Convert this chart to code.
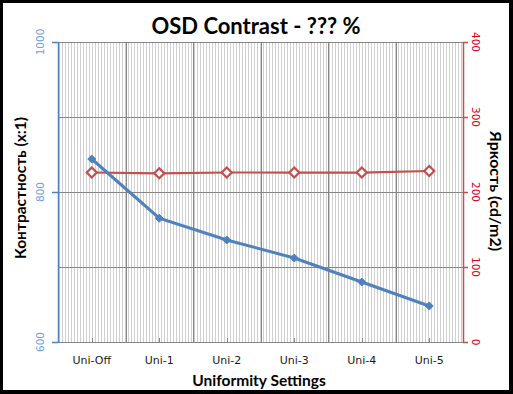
<!DOCTYPE html>
<html>
<head>
<meta charset="utf-8">
<script src="https://cdn.jsdelivr.net/npm/d3@7"></script>
<style>
  body { margin: 0; background: #000; }
  svg { display: block; }
</style>
</head>
<body>
<div id="chart"></div>
<script>
const categories = ["Uni-Off", "Uni-1", "Uni-2", "Uni-3", "Uni-4", "Uni-5"];
const contrast = [844, 765, 736, 712, 680, 648];
const luminance = [226, 225, 226, 226, 226, 228];
const contrastTicks = [600, 800, 1000];
const contrastGrid = [600, 700, 800, 900, 1000];
const luminanceTicks = [0, 100, 200, 300, 400];

const W = 513;
const H = 394;
const margin = { top: 42, right: 50, bottom: 52, left: 58 };
const width = W - margin.left - margin.right;
const height = H - margin.top - margin.bottom;

const blue = "#4f81bd";
const red = "#c0504d";
const titleFont = "Lato, 'Liberation Sans', sans-serif";
const tickFont = "'DejaVu Sans', Verdana, sans-serif";

const svg = d3
  .select("#chart")
  .append("svg")
  .attr("width", W)
  .attr("height", H);

// frame
svg.append("rect").attr("width", W).attr("height", H).attr("fill", "#000");
svg
  .append("rect")
  .attr("x", 3)
  .attr("y", 3)
  .attr("width", 506)
  .attr("height", 387)
  .attr("fill", "#fff");

const defs = svg.append("defs");
defs
  .append("pattern")
  .attr("id", "minorGrid")
  .attr("patternUnits", "userSpaceOnUse")
  .attr("x", margin.left)
  .attr("width", 3)
  .attr("height", 10)
  .append("rect")
  .attr("x", 0)
  .attr("width", 1)
  .attr("height", 10)
  .attr("fill", "#cfcfcf");

const g = svg
  .append("g")
  .attr("transform", "translate(" + margin.left + "," + margin.top + ")");

const xBand = d3
  .scaleBand()
  .domain(categories)
  .range([0, width]);

const xPoint = d => xBand(d) + xBand.bandwidth() / 2;

const yLeft = d3
  .scaleLinear()
  .domain([600, 1000])
  .range([height, 0]);

const yRight = d3
  .scaleLinear()
  .domain([0, 400])
  .range([height, 0]);

// minor grid
g.append("rect")
  .attr("width", width)
  .attr("height", height)
  .attr("fill", "url(#minorGrid)");

// major grid
const grid = g.append("g").attr("stroke", "#868686").attr("stroke-width", 1);

grid
  .selectAll("line.h")
  .data(contrastGrid)
  .enter()
  .append("line")
  .attr("class", "h")
  .attr("x1", 0)
  .attr("x2", width)
  .attr("y1", d => Math.round(yLeft(d)) + 0.5)
  .attr("y2", d => Math.round(yLeft(d)) + 0.5);

grid
  .selectAll("line.v")
  .data(categories.slice(1))
  .enter()
  .append("line")
  .attr("class", "v")
  .attr("x1", d => Math.round(xBand(d)) + 0.5)
  .attr("x2", d => Math.round(xBand(d)) + 0.5)
  .attr("y1", 0)
  .attr("y2", height);

// category axis
const xAxis = g.append("g").attr("transform", "translate(0," + height + ")");

xAxis
  .append("line")
  .attr("x1", 0)
  .attr("x2", width)
  .attr("y1", 0.5)
  .attr("y2", 0.5)
  .attr("stroke", "#868686");

xAxis
  .selectAll("line.tick")
  .data(categories)
  .enter()
  .append("line")
  .attr("class", "tick")
  .attr("x1", d => Math.round(xPoint(d)) + 0.5)
  .attr("x2", d => Math.round(xPoint(d)) + 0.5)
  .attr("y1", 0)
  .attr("y2", -4)
  .attr("stroke", "#868686");

xAxis
  .selectAll("text")
  .data(categories)
  .enter()
  .append("text")
  .attr("x", d => xPoint(d))
  .attr("y", 22)
  .attr("text-anchor", "middle")
  .attr("font-family", tickFont)
  .attr("font-size", 11)
  .attr("fill", "#1a1a1a")
  .text(d => d);

// left axis
const leftAxis = g.append("g");

leftAxis
  .append("line")
  .attr("x1", 0.5)
  .attr("x2", 0.5)
  .attr("y1", 0)
  .attr("y2", height + 1)
  .attr("stroke", blue)
  .attr("stroke-width", 1.5);

leftAxis
  .selectAll("line.tick")
  .data(contrastTicks)
  .enter()
  .append("line")
  .attr("class", "tick")
  .attr("x1", -6)
  .attr("x2", 0)
  .attr("y1", d => Math.round(yLeft(d)) + 0.5)
  .attr("y2", d => Math.round(yLeft(d)) + 0.5)
  .attr("stroke", blue)
  .attr("stroke-width", 1.5);

leftAxis
  .selectAll("text")
  .data(contrastTicks)
  .enter()
  .append("text")
  .attr(
    "transform",
    d => "translate(-14.5," + yLeft(d) + ") rotate(-90)"
  )
  .attr("text-anchor", "middle")
  .attr("font-family", tickFont)
  .attr("font-size", 10.5)
  .attr("fill", "#6d9ee0")
  .text(d => d);

// right axis
const rightAxis = g.append("g").attr("transform", "translate(" + width + ",0)");

rightAxis
  .append("line")
  .attr("x1", 0.5)
  .attr("x2", 0.5)
  .attr("y1", 0)
  .attr("y2", height + 1)
  .attr("stroke", red)
  .attr("stroke-width", 1.5);

rightAxis
  .selectAll("line.tick")
  .data(luminanceTicks)
  .enter()
  .append("line")
  .attr("class", "tick")
  .attr("x1", 0)
  .attr("x2", 5)
  .attr("y1", d => Math.round(yRight(d)) + 0.5)
  .attr("y2", d => Math.round(yRight(d)) + 0.5)
  .attr("stroke", red)
  .attr("stroke-width", 1.5);

rightAxis
  .selectAll("text")
  .data(luminanceTicks)
  .enter()
  .append("text")
  .attr("transform", d => "translate(8.5," + yRight(d) + ") rotate(90)")
  .attr("text-anchor", "middle")
  .attr("font-family", tickFont)
  .attr("font-size", 10.5)
  .attr("fill", "#d6001c")
  .text(d => d);

// luminance series
const lumLine = d3
  .line()
  .x((d, i) => xPoint(categories[i]))
  .y(d => yRight(d));

g.append("path")
  .datum(luminance)
  .attr("d", lumLine)
  .attr("fill", "none")
  .attr("stroke", red)
  .attr("stroke-width", 2.25);

// contrast series
const conLine = d3
  .line()
  .x((d, i) => xPoint(categories[i]))
  .y(d => yLeft(d));

g.append("path")
  .datum(contrast)
  .attr("d", conLine)
  .attr("fill", "none")
  .attr("stroke", blue)
  .attr("stroke-width", 3);

const diamond = r => "M0," + -r + "L" + r + ",0L0," + r + "L" + -r + ",0Z";

g.selectAll("path.conDot")
  .data(contrast)
  .enter()
  .append("path")
  .attr("class", "conDot")
  .attr("d", diamond(4))
  .attr(
    "transform",
    (d, i) => "translate(" + xPoint(categories[i]) + "," + yLeft(d) + ")"
  )
  .attr("fill", blue)
  .attr("stroke", blue);

g.selectAll("path.lumDot")
  .data(luminance)
  .enter()
  .append("path")
  .attr("class", "lumDot")
  .attr("d", diamond(5))
  .attr(
    "transform",
    (d, i) => "translate(" + xPoint(categories[i]) + "," + yRight(d) + ")"
  )
  .attr("fill", "#fff")
  .attr("stroke", red)
  .attr("stroke-width", 2.25);

// titles
svg
  .append("text")
  .attr("x", 256)
  .attr("y", 34)
  .attr("text-anchor", "middle")
  .attr("font-family", titleFont)
  .attr("font-weight", "bold")
  .attr("font-size", 22)
  .text("OSD Contrast - ??? %");

svg
  .append("text")
  .attr("x", 259)
  .attr("y", 386)
  .attr("text-anchor", "middle")
  .attr("font-family", titleFont)
  .attr("font-weight", "bold")
  .attr("font-size", 15.5)
  .text("Uniformity Settings");

svg
  .append("text")
  .attr("transform", "translate(25.5,188) rotate(-90)")
  .attr("text-anchor", "middle")
  .attr("font-family", titleFont)
  .attr("font-weight", "bold")
  .attr("font-size", 15.5)
  .text("Контрастность (x:1)");

svg
  .append("text")
  .attr("transform", "translate(490,191) rotate(90)")
  .attr("text-anchor", "middle")
  .attr("font-family", titleFont)
  .attr("font-weight", "bold")
  .attr("font-size", 16)
  .text("Яркость (cd/m2)");
</script>
</body>
</html>
